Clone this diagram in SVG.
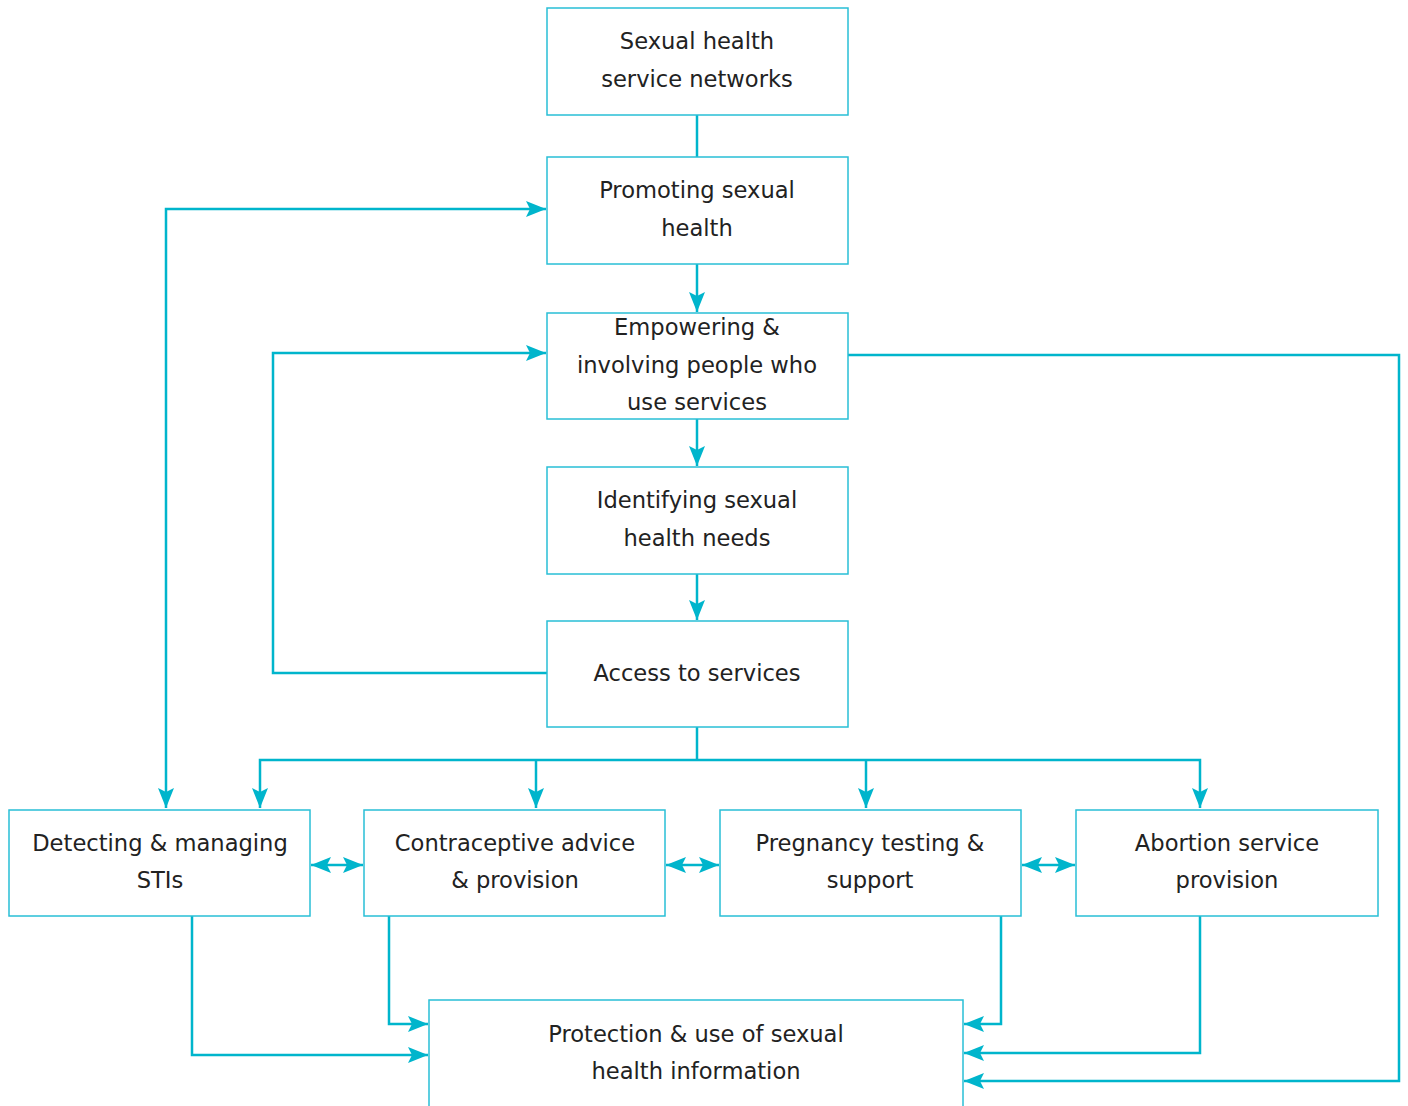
<svg xmlns="http://www.w3.org/2000/svg" width="1408" height="1106" viewBox="0 0 1408 1106">
<style>
.box{fill:#fff;stroke:#29bfd6;stroke-width:1.5}
.t{font-family:"DejaVu Sans",sans-serif;font-size:22.6px;fill:#222;text-anchor:middle;dominant-baseline:central}
.c{fill:none;stroke:#00b5cc;stroke-width:2.5}
</style>
<defs>
<marker id="a" viewBox="0 0 20 16" refX="20" refY="8" markerWidth="20" markerHeight="16" markerUnits="userSpaceOnUse" orient="auto-start-reverse">
<path d="M0,0 L20,8 L0,16 L4,8 z" fill="#00b5cc"/>
</marker>
</defs>
<rect width="1408" height="1106" fill="#fff"/>
<g id="connectors">
<path class="c" d="M697,115 V157"/>
<path class="c" d="M697,264 V312" marker-end="url(#a)"/>
<path class="c" d="M697,419 V466" marker-end="url(#a)"/>
<path class="c" d="M697,574 V620" marker-end="url(#a)"/>
<path class="c" d="M166,808 V209 H546" marker-start="url(#a)" marker-end="url(#a)"/>
<path class="c" d="M547,673 H273 V353 H546" marker-end="url(#a)"/>
<path class="c" d="M848,355 H1399 V1081 H964" marker-end="url(#a)"/>
<path class="c" d="M697,727 V760"/>
<path class="c" d="M260,808 V760 H1200 V808" marker-start="url(#a)" marker-end="url(#a)"/>
<path class="c" d="M536,760 V808" marker-end="url(#a)"/>
<path class="c" d="M866,760 V808" marker-end="url(#a)"/>
<path class="c" d="M311,865 H363" marker-start="url(#a)" marker-end="url(#a)"/>
<path class="c" d="M666,865 H719" marker-start="url(#a)" marker-end="url(#a)"/>
<path class="c" d="M1022,865 H1075" marker-start="url(#a)" marker-end="url(#a)"/>
<path class="c" d="M192,916 V1055 H428" marker-end="url(#a)"/>
<path class="c" d="M389,916 V1024 H428" marker-end="url(#a)"/>
<path class="c" d="M1001,916 V1024 H964" marker-end="url(#a)"/>
<path class="c" d="M1200,916 V1053 H964" marker-end="url(#a)"/>
</g>
<g id="n1"><rect class="box" x="547" y="8" width="301" height="107"/><text class="t" x="697" y="41">Sexual health</text><text class="t" x="697" y="79">service networks</text></g>
<g id="n2"><rect class="box" x="547" y="157" width="301" height="107"/><text class="t" x="697" y="190">Promoting sexual</text><text class="t" x="697" y="228">health</text></g>
<g id="n3"><rect class="box" x="547" y="313" width="301" height="106"/><text class="t" x="697" y="327">Empowering &amp;</text><text class="t" x="697" y="365">involving people who</text><text class="t" x="697" y="402">use services</text></g>
<g id="n4"><rect class="box" x="547" y="467" width="301" height="107"/><text class="t" x="697" y="500">Identifying sexual</text><text class="t" x="697" y="538">health needs</text></g>
<g id="n5"><rect class="box" x="547" y="621" width="301" height="106"/><text class="t" x="697" y="673">Access to services</text></g>
<g id="n6"><rect class="box" x="9" y="810" width="301" height="106"/><text class="t" x="160" y="843">Detecting &amp; managing</text><text class="t" x="160" y="880">STIs</text></g>
<g id="n7"><rect class="box" x="364" y="810" width="301" height="106"/><text class="t" x="515" y="843">Contraceptive advice</text><text class="t" x="515" y="880">&amp; provision</text></g>
<g id="n8"><rect class="box" x="720" y="810" width="301" height="106"/><text class="t" x="870" y="843">Pregnancy testing &amp;</text><text class="t" x="870" y="880">support</text></g>
<g id="n9"><rect class="box" x="1076" y="810" width="302" height="106"/><text class="t" x="1227" y="843">Abortion service</text><text class="t" x="1227" y="880">provision</text></g>
<g id="n10"><rect class="box" x="429" y="1000" width="534" height="130"/><text class="t" x="696" y="1034">Protection &amp; use of sexual</text><text class="t" x="696" y="1071">health information</text></g>
</svg>
